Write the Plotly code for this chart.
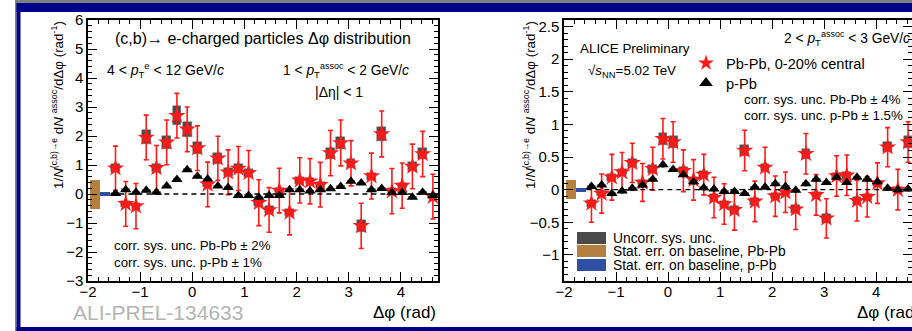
import math
import plotly.graph_objects as go

# ---------------- data ----------------
NBIN = 32
BINW = math.pi / 16
dphi = [-math.pi / 2 + (i + 0.5) * BINW for i in range(NBIN)]

# Left panel: 1 < pT assoc < 2 GeV/c
pbpb_1_y = [0.89, -0.34, -0.42, 1.95, 0.90, 1.78, 2.70, 2.23, 1.58, 0.33, 1.23, 0.75,
            0.88, 0.73, -0.30, -0.55, 0.12, -0.63, 0.47, 0.44, 0.32, 1.41, 1.76, 1.06,
            -1.10, 0.62, 2.07, 0.10, 0.29, 0.95, 1.38, -0.09]
pbpb_1_stat = [0.76, 0.77, 0.78, 0.77, 0.77, 0.77, 0.77, 0.77, 0.77, 0.77, 0.76, 0.77,
               0.76, 0.77, 0.79, 0.77, 0.77, 0.78, 0.78, 0.78, 0.77, 0.78, 0.79, 0.78,
               0.78, 0.79, 0.79, 0.78, 0.78, 0.77, 0.78, 0.77]
pbpb_1_sys = [0.14, 0.11, 0.11, 0.24, 0.14, 0.23, 0.32, 0.27, 0.21, 0.10, 0.18, 0.13,
              0.14, 0.13, 0.10, 0.12, 0.09, 0.13, 0.11, 0.11, 0.10, 0.19, 0.21, 0.16,
              0.20, 0.12, 0.24, 0.09, 0.10, 0.15, 0.19, 0.09]
ppb_1_y = [0.02, 0.15, 0.06, 0.13, 0.06, 0.28, 0.50, 0.84, 0.61, 0.52, 0.28, 0.22,
           -0.05, -0.05, -0.11, -0.05, -0.05, 0.15, 0.15, 0.10, 0.15, 0.18, 0.26, 0.44,
           0.38, 0.15, 0.19, 0.05, 0.05, -0.11, 0.06, -0.05]
ppb_1_stat = [0.05] * NBIN
ppb_1_sys = [0.04] * NBIN

# Right panel: 2 < pT assoc < 3 GeV/c
pbpb_2_y = [-0.21, -0.06, 0.19, 0.27, 0.41, 0.11, 0.32, 0.78, 0.73, 0.29, 0.15, 0.23,
            -0.12, -0.22, -0.31, 0.60, -0.18, 0.34, -0.10, -0.04, -0.30, 0.55, -0.08, -0.44,
            0.21, 0.22, -0.17, -0.11, 0.10, 0.65, 0.00, 0.73]
pbpb_2_stat = [0.29, 0.30, 0.35, 0.30, 0.30, 0.29, 0.33, 0.31, 0.31, 0.32, 0.31, 0.31,
               0.31, 0.31, 0.31, 0.31, 0.31, 0.31, 0.31, 0.31, 0.31, 0.31, 0.31, 0.30,
               0.31, 0.31, 0.31, 0.31, 0.31, 0.30, 0.31, 0.31]
pbpb_2_sys = [0.05, 0.04, 0.05, 0.05, 0.06, 0.04, 0.06, 0.09, 0.09, 0.05, 0.05, 0.05,
              0.05, 0.05, 0.06, 0.08, 0.05, 0.06, 0.05, 0.04, 0.06, 0.08, 0.04, 0.07,
              0.05, 0.05, 0.05, 0.05, 0.04, 0.08, 0.04, 0.09]
ppb_2_y = [0.05, 0.07, -0.06, -0.02, 0.02, 0.07, 0.16, 0.38, 0.31, 0.23, 0.12, 0.03,
           0.01, -0.03, -0.03, -0.06, 0.04, 0.04, 0.09, 0.05, -0.01, 0.09, 0.16, 0.11,
           0.19, 0.11, 0.19, 0.16, 0.12, 0.02, 0.00, 0.01]
ppb_2_stat = [0.03] * NBIN
ppb_2_sys = [0.02] * NBIN

# baseline statistical uncertainty bands (half-widths)
base_pbpb = [0.50, 0.15]
base_ppb = [0.06, 0.03]
base_pbpb_x = [-1.96, -1.77]
base_ppb_x = [-1.77, -math.pi / 2]

# ---------------- styling ----------------
W, H = 912, 331
FONT = "Liberation Sans, Arial, Helvetica, sans-serif"
RED = "#ff1a1a"
GRAY = "#4a4a4a"
BROWN = "#b5803f"
BLUE = "#2f4fa5"
NAVY = "#00008c"


def px(x):
    return x / W


def py(y):
    return 1 - y / H


def small(s, size=9.5):
    return "<span style='font-size:%gpx'>%s</span>" % (size, s)


fig = go.Figure()

panels = [
    dict(xa="x", ya="y", pb=(pbpb_1_y, pbpb_1_stat, pbpb_1_sys),
         pp=(ppb_1_y, ppb_1_stat, ppb_1_sys), bi=0, leg=False),
    dict(xa="x2", ya="y2", pb=(pbpb_2_y, pbpb_2_stat, pbpb_2_sys),
         pp=(ppb_2_y, ppb_2_stat, ppb_2_sys), bi=1, leg=True),
]

for p in panels:
    xa, ya, bi = p["xa"], p["ya"], p["bi"]
    # baseline bands
    fig.add_trace(go.Bar(x=[(base_pbpb_x[0] + base_pbpb_x[1]) / 2], y=[2 * base_pbpb[bi]],
                         base=[-base_pbpb[bi]], width=[base_pbpb_x[1] - base_pbpb_x[0]],
                         marker=dict(color=BROWN, line=dict(width=0)),
                         xaxis=xa, yaxis=ya, showlegend=False, hoverinfo="skip"))
    fig.add_trace(go.Bar(x=[(base_ppb_x[0] + base_ppb_x[1]) / 2], y=[2 * base_ppb[bi]],
                         base=[-base_ppb[bi]], width=[base_ppb_x[1] - base_ppb_x[0]],
                         marker=dict(color=BLUE, line=dict(width=0)),
                         xaxis=xa, yaxis=ya, showlegend=False, hoverinfo="skip"))
    yv, st, sy = p["pb"]
    fig.add_trace(go.Bar(x=dphi, y=[2 * s for s in sy], base=[v - s for v, s in zip(yv, sy)],
                         width=0.17, marker=dict(color=GRAY, line=dict(color="#777", width=0.5)),
                         xaxis=xa, yaxis=ya, showlegend=False, hoverinfo="skip"))
    fig.add_trace(go.Scatter(x=dphi, y=yv, mode="markers", name="Pb-Pb, 0-20% central",
                             marker=dict(symbol="star", size=13, color=RED, line=dict(width=0)),
                             error_y=dict(type="data", array=st, color=RED, thickness=1.6, width=2.5),
                             xaxis=xa, yaxis=ya, showlegend=p["leg"], legend="legend"))
    yv, st, sy = p["pp"]
    fig.add_trace(go.Bar(x=dphi, y=[2 * s for s in sy], base=[v - s for v, s in zip(yv, sy)],
                         width=0.17, marker=dict(color="#9a9a9a", line=dict(width=0)),
                         xaxis=xa, yaxis=ya, showlegend=False, hoverinfo="skip"))
    fig.add_trace(go.Scatter(x=dphi, y=yv, mode="markers", name="p-Pb",
                             marker=dict(symbol="triangle-up", size=10, color="black", line=dict(width=0)),
                             error_y=dict(type="data", array=st, color="black", thickness=1.2, width=1.5),
                             xaxis=xa, yaxis=ya, showlegend=p["leg"], legend="legend2"))
    fig.add_shape(type="line", xref=xa, yref=ya, x0=-math.pi / 2, x1=1.5 * math.pi, y0=0, y1=0,
                  line=dict(color="black", width=1.3, dash="5px,4px"))

ax_common = dict(ticks="inside", ticklen=9, tickwidth=1.2, tickcolor="black",
                 showline=True, linecolor="black", linewidth=1.5, mirror="allticks",
                 showgrid=False, zeroline=False, tickfont=dict(family=FONT, size=15, color="black"))
minor_x = dict(ticks="inside", ticklen=4.5, dtick=0.2, tickcolor="black")

ydom = [py(281), py(20)]
fig.update_layout(
    xaxis=dict(domain=[px(88), px(438)], range=[-2, 1.5 * math.pi], anchor="y",
               tick0=0, dtick=1, minor=minor_x, ticklabelstandoff=-4, **ax_common),
    yaxis=dict(domain=ydom, range=[-3, 6], anchor="x", tick0=0, dtick=1,
               minor=dict(ticks="inside", ticklen=4.5, dtick=0.2, tickcolor="black"), **ax_common),
    xaxis2=dict(domain=[px(564), 1.0], range=[-2, 4.69], anchor="y2",
                tick0=0, dtick=1, minor=minor_x, ticklabelstandoff=-4, **ax_common),
    yaxis2=dict(domain=ydom, range=[-1.4, 2.6], anchor="x2", tick0=0, dtick=0.5,
                minor=dict(ticks="inside", ticklen=4.5, dtick=0.1, tickcolor="black"), **ax_common),
)

annots = []


def txt(x, y, s, size=15, xanchor="left", color="black", angle=0, yanchor="middle"):
    annots.append(dict(x=px(x), y=py(y), xref="paper", yref="paper", text=s, showarrow=False,
                       xanchor=xanchor, yanchor=yanchor, textangle=angle,
                       font=dict(family=FONT, size=size, color=color)))


ytitle = ("1/<i>N</i><sup>%s</sup> d<i>N</i> <sup>%s</sup>/dΔφ (rad<sup>%s</sup>)"
          % (small("(c,b)→e", 8.5), small("assoc", 9), small("-1", 9)))
# left panel texts
txt(113, 38, "(c,b)→ e-charged particles Δφ distribution", 16)
txt(105, 70, "4 < <i>p</i><sub>%s</sub><sup>%s</sup> < 12 GeV/<i>c</i>" % (small("T"), small("e")), 14)
txt(281, 70, "1 < <i>p</i><sub>%s</sub><sup>%s</sup> < 2 GeV/<i>c</i>" % (small("T"), small("assoc", 9)), 13.8)
txt(313, 92, "|Δη| < 1", 14)
txt(112, 245, "corr. sys. unc. Pb-Pb ± 2%", 13.3)
txt(112, 262, "corr. sys. unc. p-Pb ± 1%", 13.3)
txt(71, 312, "ALI-PREL-134633", 21, color="#b4b4b4")
txt(438, 312, "Δφ (rad)", 17, xanchor="right")
txt(58, 19, ytitle, 13.4, xanchor="center", angle=-90, yanchor="top")
# right panel texts
txt(578, 48, "ALICE Preliminary", 13.4)
txt(586, 71, "√<i>s</i><sub>NN</sub>=5.02 TeV", 13.4)
txt(782, 38, "2 < <i>p</i><sub>%s</sub><sup>%s</sup> < 3 GeV/<i>c</i>" % (small("T"), small("assoc", 9)), 13.8)
txt(742, 99, "corr. sys. unc. Pb-Pb ± 4%", 13.3)
txt(742, 116, "corr. sys. unc. p-Pb ± 1.5%", 13.3)
txt(855, 312, "Δφ (rad)", 17)
txt(530, 19, ytitle, 13.4, xanchor="center", angle=-90, yanchor="top")

leg2 = [("Uncorr. sys. unc.", GRAY, 238), ("Stat. err. on baseline, Pb-Pb", BROWN, 251),
        ("Stat. err. on baseline, p-Pb", BLUE, 265)]
shapes = []
for label, col, yc in leg2:
    shapes.append(dict(type="rect", xref="paper", yref="paper", x0=px(577), x1=px(606),
                       y0=py(yc + 6), y1=py(yc - 6), fillcolor=col, line=dict(width=0), layer="above"))
    txt(611, yc, label, 13.8)

# outer frame
shapes += [
    dict(type="rect", xref="paper", yref="paper", x0=px(15), x1=px(913), y0=py(0), y1=py(3),
         fillcolor="#808080", line=dict(width=0)),
    dict(type="rect", xref="paper", yref="paper", x0=px(15), x1=px(16.5), y0=py(331), y1=py(0),
         fillcolor="#808080", line=dict(width=0)),
    dict(type="rect", xref="paper", yref="paper", x0=px(16.5), x1=px(913), y0=py(12), y1=py(3),
         fillcolor=NAVY, line=dict(width=0)),
    dict(type="rect", xref="paper", yref="paper", x0=px(16.5), x1=px(20.5), y0=py(331), y1=py(3),
         fillcolor=NAVY, line=dict(width=0)),
    dict(type="rect", xref="paper", yref="paper", x0=px(16.5), x1=px(913), y0=py(331), y1=py(327),
         fillcolor=NAVY, line=dict(width=0)),
]

legend_common = dict(xanchor="left", yanchor="top", bgcolor="rgba(0,0,0,0)",
                     font=dict(family=FONT, size=14.6), itemsizing="constant")
fig.update_layout(
    width=W, height=H, margin=dict(l=0, r=0, t=0, b=0, autoexpand=False),
    paper_bgcolor="white", plot_bgcolor="white", barmode="overlay", bargap=0,
    font=dict(family=FONT, size=15, color="black"),
    annotations=annots, shapes=fig.layout.shapes + tuple(shapes),
    legend=dict(x=px(686), y=py(47), **legend_common),
    legend2=dict(x=px(686), y=py(67), **legend_common),
)

fig.write_html("out.html", post_script="document.body.style.margin='0';",
               config={"displayModeBar": False})
